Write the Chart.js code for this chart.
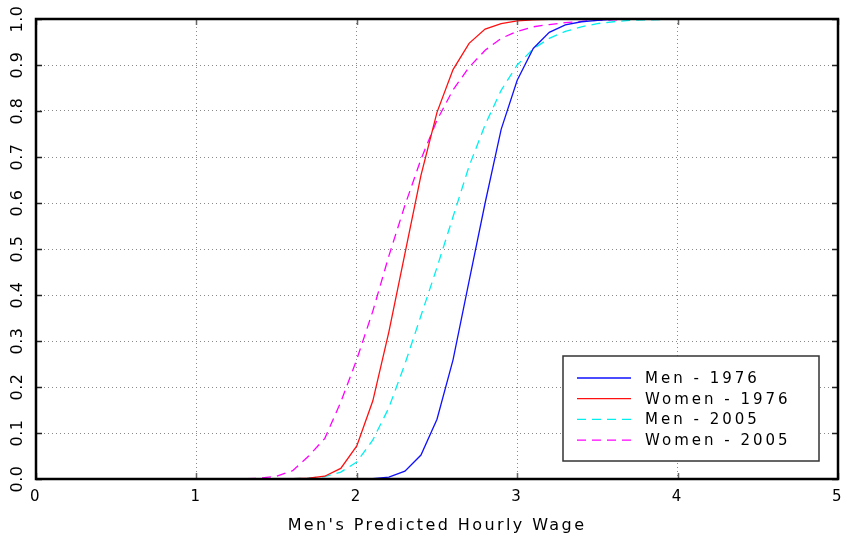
<!DOCTYPE html>
<html>
<head>
<meta charset="utf-8">
<script src="https://cdn.jsdelivr.net/npm/chart.js@4"></script>
<style>
  html, body { margin: 0; padding: 0; background: #fff; }
  #wrap { width: 847px; height: 543px; position: relative; }
</style>
</head>
<body>
<div id="wrap"><canvas id="cdf"></canvas></div>
<script>
// wage grid (x) and the four cumulative curves
const wage = [0.1, 0.2, 0.3, 0.4, 0.5, 0.6, 0.7, 0.8, 0.9, 1.0,
              1.1, 1.2, 1.3, 1.4, 1.5, 1.6, 1.7, 1.8, 1.9, 2.0,
              2.1, 2.2, 2.3, 2.4, 2.5, 2.6, 2.7, 2.8, 2.9, 3.0,
              3.1, 3.2, 3.3, 3.4, 3.5, 3.6, 3.7, 3.8, 3.9, 4.0, 4.1];

const men1976 = [0, 0, 0, 0, 0, 0, 0, 0, 0, 0,
                 0, 0, 0, 0, 0, 0, 0, 0, 0, 0,
                 0.001, 0.004, 0.017, 0.052, 0.13, 0.259, 0.43, 0.6, 0.76, 0.867,
                 0.936, 0.971, 0.987, 0.994, 0.997, 0.999, 1, 1, 1, 1, 1];

const women1976 = [0, 0, 0, 0, 0, 0, 0, 0, 0, 0,
                   0, 0, 0, 0, 0.0005, 0.001, 0.002, 0.006, 0.023, 0.072,
                   0.17, 0.32, 0.49, 0.66, 0.797, 0.89, 0.947, 0.978, 0.99, 0.996,
                   0.998, 0.999, 1, 1, 1, 1, 1, 1, 1, 1, 1];

const men2005 = [0, 0, 0, 0, 0, 0, 0, 0, 0, 0,
                 0, 0, 0, 0, 0, 0.0005, 0.002, 0.005, 0.015, 0.037,
                 0.085, 0.155, 0.25, 0.355, 0.46, 0.57, 0.68, 0.77, 0.845, 0.9,
                 0.935, 0.958, 0.973, 0.983, 0.99, 0.994, 0.997, 0.998, 0.999, 1, 1];

const women2005 = [0, 0, 0, 0, 0, 0, 0, 0, 0, 0,
                   0, 0, 0.0005, 0.002, 0.006, 0.018, 0.05, 0.088, 0.167, 0.26,
                   0.365, 0.485, 0.595, 0.695, 0.78, 0.846, 0.895, 0.932, 0.958, 0.973,
                   0.983, 0.988, 0.992, 0.995, 0.997, 0.998, 0.999, 1, 1, 1, 1];

const seriesLabels = ['Men - 1976', 'Women - 1976', 'Men - 2005', 'Women - 2005'];
const xTitle = "Men's Predicted Hourly Wage";

const FONT = "'DejaVu Sans', sans-serif";

function pts(ys) {
  return wage.map((x, i) => ({ x: x, y: ys[i] }));
}

// frame, inward tick marks, rotated y labels and the boxed legend
const plotDecor = {
  id: 'plotDecor',
  beforeDraw(chart) {
    chart.ctx.letterSpacing = '2.4px';
  },
  afterDraw(chart) {
    const ctx = chart.ctx;
    const { left, right, top, bottom } = chart.chartArea;
    const xs = chart.scales.x, ys = chart.scales.y;

    ctx.save();
    // small inward ticks
    ctx.strokeStyle = '#222';
    ctx.lineWidth = 1.5;
    ys.ticks.forEach(t => {
      const py = Math.round(ys.getPixelForValue(t.value)) + 0.5;
      ctx.beginPath();
      ctx.moveTo(left, py); ctx.lineTo(left + 6, py);
      ctx.moveTo(right - 6, py); ctx.lineTo(right, py);
      ctx.stroke();
    });
    ctx.strokeStyle = '#666';
    xs.ticks.forEach(t => {
      const px = Math.round(xs.getPixelForValue(t.value)) + 0.5;
      ctx.beginPath();
      ctx.moveTo(px, bottom); ctx.lineTo(px, bottom - 6);
      ctx.moveTo(px, top); ctx.lineTo(px, top + 6);
      ctx.stroke();
    });

    // heavy frame
    ctx.strokeStyle = '#000';
    ctx.lineWidth = 2.5;
    ctx.strokeRect(left, top, right - left, bottom - top);

    // y tick labels, written bottom-to-top
    ctx.fillStyle = '#000';
    ctx.font = '16px ' + FONT;
    ctx.letterSpacing = '0.5px';
    ctx.textAlign = 'center';
    ctx.textBaseline = 'middle';
    ys.ticks.forEach(t => {
      const py = ys.getPixelForValue(t.value);
      ctx.save();
      ctx.translate(18, py);
      ctx.rotate(-Math.PI / 2);
      ctx.fillText(t.value.toFixed(1), 0, 0);
      ctx.restore();
    });

    // legend box
    const bx = right - 275, by = bottom - 123, bw = 256, bh = 105;
    ctx.fillStyle = '#fff';
    ctx.fillRect(bx, by, bw, bh);
    ctx.strokeStyle = '#333';
    ctx.lineWidth = 1.5;
    ctx.strokeRect(bx, by, bw, bh);

    ctx.font = '15px ' + FONT;
    ctx.letterSpacing = '3px';
    ctx.textAlign = 'left';
    chart.data.datasets.forEach((ds, i) => {
      const ry = by + 22 + i * 20.7;
      ctx.strokeStyle = ds.borderColor;
      ctx.lineWidth = ds.borderWidth;
      ctx.setLineDash(ds.borderDash || []);
      ctx.beginPath();
      ctx.moveTo(bx + 14, ry); ctx.lineTo(bx + 68, ry);
      ctx.stroke();
      ctx.setLineDash([]);
      ctx.fillStyle = '#000';
      ctx.fillText(ds.label, bx + 82, ry + 1);
    });
    ctx.restore();
  }
};

const gridStyle = { color: '#8a8a8a', lineWidth: 1, drawTicks: false };

new Chart(document.getElementById('cdf'), {
  type: 'line',
  data: {
    datasets: [
      { label: seriesLabels[0], data: pts(men1976), borderColor: '#1010ff', borderWidth: 1.3 },
      { label: seriesLabels[1], data: pts(women1976), borderColor: '#ff1010', borderWidth: 1.3 },
      { label: seriesLabels[2], data: pts(men2005), borderColor: '#00f0f0', borderWidth: 1.3, borderDash: [9, 6] },
      { label: seriesLabels[3], data: pts(women2005), borderColor: '#ff00ff', borderWidth: 1.3, borderDash: [9, 6] }
    ]
  },
  options: {
    responsive: true,
    maintainAspectRatio: false,
    animation: false,
    events: [],
    elements: { point: { radius: 0 }, line: { tension: 0, fill: false } },
    layout: { padding: { top: 19, right: 9, left: 0, bottom: 0 } },
    plugins: { legend: { display: false }, tooltip: { enabled: false } },
    scales: {
      x: {
        type: 'linear',
        min: 0, max: 5,
        afterFit(scale) {
          scale.height = 64;
          scale.paddingLeft = 0;
          scale.paddingRight = 0;
        },
        ticks: { stepSize: 1, color: '#000', padding: 9, font: { size: 15, family: FONT } },
        grid: gridStyle,
        border: { display: false, dash: [1, 3] },
        title: {
          display: true, text: xTitle, color: '#000',
          font: { size: 16, family: FONT }, padding: { top: 0, bottom: 8 }
        }
      },
      y: {
        min: 0, max: 1,
        afterFit(scale) { scale.width = 36; },
        ticks: { stepSize: 0.1, display: false },
        grid: gridStyle,
        border: { display: false, dash: [1, 3] }
      }
    }
  },
  plugins: [plotDecor]
});
</script>
</body>
</html>
